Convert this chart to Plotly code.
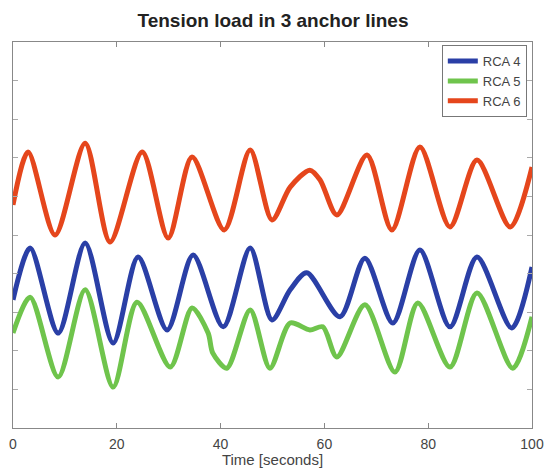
import plotly.graph_objects as go

# Time stamps (s) and tension values (arbitrary units)
t_rca4 = [0, 3.3, 8.7, 13.9, 19.3, 24.1, 29.7, 34.7, 40.5, 45.7, 49.9, 53.4, 56.6, 63.0, 67.8, 73.2, 78.4, 84.2, 89.4, 96.1, 100]
v_rca4 = [3.32, 4.66, 2.46, 4.79, 2.20, 4.43, 2.54, 4.48, 2.62, 4.66, 2.80, 3.58, 4.02, 2.88, 4.40, 2.72, 4.61, 2.62, 4.43, 2.59, 4.17]

t_rca5 = [0, 3.3, 8.7, 13.9, 19.3, 23.9, 30.3, 34.5, 37.6, 38.5, 41.2, 45.7, 49.5, 53.4, 57.2, 59.7, 62.4, 67.8, 73.6, 78.0, 84.2, 89.4, 96.3, 100]
v_rca5 = [2.46, 3.39, 1.32, 3.58, 1.06, 3.26, 1.58, 3.11, 2.46, 1.94, 1.55, 3.06, 1.55, 2.72, 2.54, 2.62, 1.84, 3.19, 1.45, 3.24, 1.58, 3.50, 1.55, 2.88]

t_rca6 = [0, 2.9, 8.1, 13.9, 18.7, 24.9, 29.9, 34.5, 40.7, 45.7, 49.9, 53.4, 57.2, 59.2, 62.4, 68.2, 73.0, 78.4, 84.2, 89.4, 95.8, 100]
v_rca6 = [5.78, 7.15, 5.00, 7.38, 4.82, 7.15, 4.92, 7.02, 5.13, 7.20, 5.39, 6.24, 6.68, 6.42, 5.52, 7.07, 5.13, 7.28, 5.21, 6.94, 5.21, 6.76]

x_ticks = [0, 20, 40, 60, 80, 100]

series = [
    ("RCA 4", t_rca4, v_rca4, "#2a3fa6"),
    ("RCA 5", t_rca5, v_rca5, "#6fc44c"),
    ("RCA 6", t_rca6, v_rca6, "#e5461c"),
]

fig = go.Figure()
for name, t, v, c in series:
    fig.add_trace(go.Scatter(x=t, y=v, name=name, mode="lines",
                             line=dict(color=c, width=5, shape="spline", smoothing=0.8)))

fig.update_layout(
    width=546, height=468,
    margin=dict(l=13, r=14, t=42, b=40),
    paper_bgcolor="white", plot_bgcolor="white",
    font=dict(family="Liberation Sans, Arial, sans-serif", color="#333"),
    title=dict(text="<b>Tension load in 3 anchor lines</b>", x=0.5, xanchor="center",
               y=0.957, yanchor="middle", font=dict(size=19, color="#222")),
    showlegend=True,
    legend=dict(x=0.99, y=0.992, xanchor="right", yanchor="top",
                bgcolor="white", bordercolor="#777", borderwidth=1,
                font=dict(size=13, color="#444"), tracegroupgap=0,
                itemwidth=30),
)
fig.update_xaxes(range=[0, 100], tickvals=x_ticks, ticktext=[str(v) for v in x_ticks],
                 automargin=False,
                 ticks="inside", ticklen=5, tickcolor="#888", showline=True, linecolor="#888",
                 linewidth=1, mirror="ticks", showgrid=False, zeroline=False,
                 tickfont=dict(size=14, color="#444"), ticklabelstandoff=3,
                 title=dict(text="Time [seconds]", font=dict(size=15, color="#444"), standoff=0))
fig.update_yaxes(range=[0, 10], dtick=1, showticklabels=False, automargin=False,
                 ticks="inside", ticklen=5, tickcolor="#aaa", showline=True, linecolor="#888",
                 linewidth=1, mirror="ticks", showgrid=False, zeroline=False)

fig.write_html("out.html", config={"displayModeBar": False},
               post_script="document.body.style.margin='0';")
